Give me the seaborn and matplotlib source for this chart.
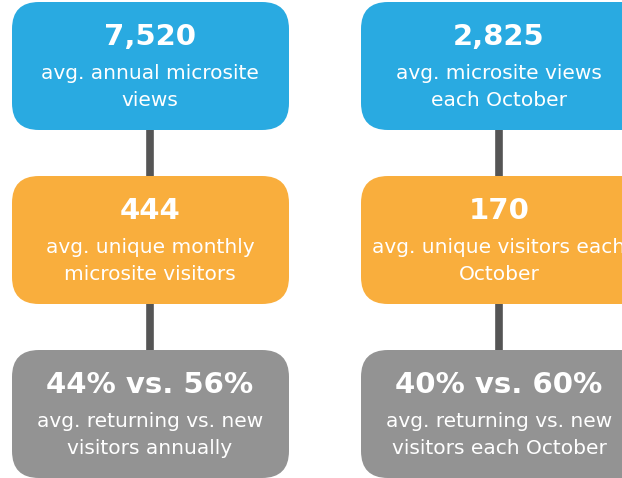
import matplotlib
matplotlib.use('Agg')
import matplotlib.pyplot as plt
import seaborn as sns
from matplotlib.patches import FancyBboxPatch

# Data
stage_colors = ['#29aae1', '#f9ae3d', '#939393']
left_values = ['7,520', '444', '44% vs. 56%']
left_labels = ['avg. annual microsite\nviews',
               'avg. unique monthly\nmicrosite visitors',
               'avg. returning vs. new\nvisitors annually']
right_values = ['2,825', '170', '40% vs. 60%']
right_labels = ['avg. microsite views\neach October',
                'avg. unique visitors each\nOctober',
                'avg. returning vs. new\nvisitors each October']

sns.set_theme(style='white')
plt.rcParams['font.family'] = ['DejaVu Sans']

W, H = 622, 478
fig = plt.figure(figsize=(W / 100, H / 100), dpi=100)
ax = fig.add_axes([0, 0, 1, 1])
ax.set_xlim(0, W)
ax.set_ylim(H, 0)
ax.axis('off')

row_tops = [2, 176, 350]
box_h = 128
columns = [
    dict(x0=12, x1=289, cx=150, values=left_values, labels=left_labels),
    dict(x0=361, x1=700, cx=499, values=right_values, labels=right_labels),
]

for col in columns:
    # connectors between the stacked boxes
    for i in range(len(row_tops) - 1):
        ax.plot([col['cx'], col['cx']], [row_tops[i] + box_h, row_tops[i + 1]],
                color='#555555', lw=5.5, solid_capstyle='butt', zorder=1)
    for i, (val, lab) in enumerate(zip(col['values'], col['labels'])):
        top = row_tops[i]
        box = FancyBboxPatch((col['x0'], top), col['x1'] - col['x0'], box_h,
                             boxstyle='round,pad=0,rounding_size=27',
                             fc=stage_colors[i], ec='none', zorder=2)
        ax.add_patch(box)
        ax.text(col['cx'], top + 35, val, ha='center', va='center',
                color='white', fontsize=21, fontweight='bold', zorder=3)
        ax.text(col['cx'], top + 85, lab, ha='center', va='center',
                color='white', fontsize=14.5, linespacing=1.55, zorder=3)

fig.savefig('out.png', dpi=100)
